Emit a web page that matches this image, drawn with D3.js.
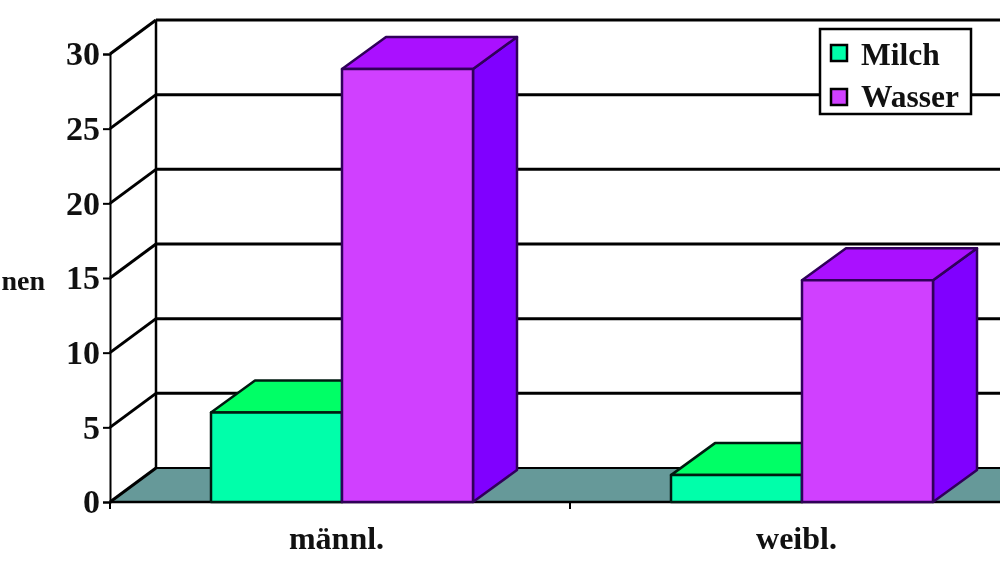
<!DOCTYPE html>
<html><head><meta charset="utf-8">
<script src="https://cdn.jsdelivr.net/npm/d3@7"></script>
<style>html,body{margin:0;padding:0;background:#fff;overflow:hidden}svg{display:block;filter:blur(0.4px)}text{font-family:"Liberation Serif",serif;font-weight:bold;fill:#111}</style>
</head><body><svg id="c" width="1000" height="562"></svg>
<script>
const categories = ["männl.", "weibl."];
const seriesNames = ["Milch", "Wasser"];
const milch = [6, 1.8];
const wasser = [29, 14.85];
const yTicks = [0, 5, 10, 15, 20, 25, 30];
const axisTitle = "nen";
const frontColors = ["#00FFAA", "#D040FF"];
const topColors = ["#00FF66", "#AA10FF"];
const sideColors = ["#00C080", "#8000FF"];

const svg = d3.select("#c");
const W = 1000, H = 562, x0 = 110, x1 = 1030, y0 = 502, y30 = 54, dx = 46, dy = -34, bdx = 44, bdy = -32;
const y = d3.scaleLinear().domain([0, 30]).range([y0, y30]);
const xCat = d3.scaleBand().domain(categories).range([x0, x1]);
const xSer = d3.scaleBand().domain(seriesNames).range([101, 363]);
const ln = (g, a, b, c, d, w, col = "#000") => g.append("line").attr("x1", a).attr("y1", b).attr("x2", c).attr("y2", d).attr("stroke", col).attr("stroke-width", w);

// floor
svg.append("polygon").attr("points", [[x0, y0], [x0 + dx, y0 + dy], [x1 + dx, y0 + dy], [x1, y0]].join(" ")).attr("fill", "#669999");

// walls / gridlines
const grid = svg.append("g");
yTicks.forEach(t => {
  const py = y(t);
  ln(grid, x0, py, x0 + dx, py + dy, 3);
  ln(grid, x0 + dx, py + dy, x1 + dx, py + dy, t === 0 ? 2.2 : 3);
});
ln(grid, x0 + dx, y(30) + dy, x0 + dx, y0 + dy, 2.5);

// y axis
const yAxis = d3.axisLeft(y).tickValues(yTicks).tickSize(7).tickPadding(3).tickFormat(d3.format("d"));
const ga = svg.append("g").attr("transform", `translate(${x0},0)`).call(yAxis);
ga.select(".domain").attr("stroke", "#000").attr("stroke-width", 2);
ga.selectAll(".tick line").attr("stroke", "#000").attr("stroke-width", 2);
ga.selectAll("text").style("font-family", '"Liberation Serif",serif').style("font-weight", "bold").style("font-size", "34px").attr("fill", "#111");

// x axis
const gx = svg.append("g").attr("transform", `translate(0,${y0})`);
ln(gx, x0, 0, W, 0, 2.5);
[x0, x0 + xCat.step(), x1].forEach(v => ln(gx, v, 0, v, 7, 2));
categories.forEach(c => {
  gx.append("text").attr("x", xCat(c) + xCat.bandwidth() / 2 - 3.5).attr("y", 47).attr("text-anchor", "middle").attr("font-size", 32).text(c);
});

// y title (cut off by the left edge in the reference)
svg.append("text").attr("x", 45).attr("y", 290).attr("text-anchor", "end").attr("font-size", 28).text(axisTitle);

// bars
[milch, wasser].forEach((vals, s) => {
  vals.forEach((v, i) => {
    const name = seriesNames[s];
    const l = xCat(categories[i]) + xSer(name), r = l + xSer.bandwidth(), t = y(v), b = y(0);
    const g = svg.append("g").attr("stroke", s ? "#30005a" : "#001a10").attr("stroke-width", 2.5).attr("stroke-linejoin", "round");
    g.append("polygon").attr("points", [[r, b], [r + bdx, b + bdy], [r + bdx, t + bdy], [r, t]].join(" ")).attr("fill", sideColors[s]);
    g.append("polygon").attr("points", [[l, t], [l + bdx, t + bdy], [r + bdx, t + bdy], [r, t]].join(" ")).attr("fill", topColors[s]);
    g.append("rect").attr("x", l).attr("y", t).attr("width", r - l).attr("height", b - t).attr("fill", frontColors[s]);
  });
});

// legend
const lg = svg.append("g");
lg.append("rect").attr("x", 820).attr("y", 29).attr("width", 151).attr("height", 85).attr("fill", "#fff").attr("stroke", "#000").attr("stroke-width", 2.5);
seriesNames.forEach((n, i) => {
  const cy = 53 + i * 44;
  lg.append("rect").attr("x", 831).attr("y", cy - 8).attr("width", 16).attr("height", 16).attr("fill", frontColors[i]).attr("stroke", "#000").attr("stroke-width", 2.5);
  lg.append("text").attr("x", 861).attr("y", cy + 12 - i * 2).attr("font-size", 31.5).text(n);
});
</script></body></html>
